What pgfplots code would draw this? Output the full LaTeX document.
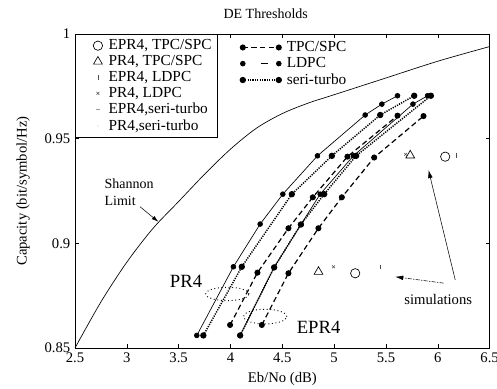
\documentclass[border=0pt]{standalone}
\usepackage{fontspec}
\setmainfont{Liberation Serif}
\usepackage{pgfplots}
\pgfplotsset{compat=1.18}
\usetikzlibrary{arrows.meta}

\pgfplotsset{
  ldpc/.style={black, line width=0.5pt, solid, mark=*, mark size=1.8pt, mark options={solid}},
  tpc/.style={black, line width=0.9pt, dash pattern=on 4pt off 2.5pt, mark=*, mark size=1.8pt, mark options={solid}},
  seri/.style={black, line width=1.1pt, dash pattern=on 0.9pt off 0.9pt, mark=*, mark size=1.8pt, mark options={solid}},
}

\begin{document}
\begin{tikzpicture}[font=\fontsize{11}{13}\selectfont]
\begin{axis}[
  name=main,
  scale only axis, width=311pt, height=235.5pt,
  xmin=2.5, xmax=6.5, ymin=0.85, ymax=1,
  xtick={2.5,3,3.5,4,4.5,5,5.5,6,6.5},
  xticklabels={2.5,3,3.5,4,4.5,5,5.5,6,6.5},
  ytick={0.85,0.9,0.95,1},
  yticklabels={0.85,0.9,0.95,1},
  tick align=inside, major tick length=3pt,
  tick style={black, line width=0.4pt},
  axis line style={line width=0.5pt},
  ticklabel style={font=\fontsize{11}{13}\selectfont},
  every axis title/.style={at={(axis description cs:0.46,1.064)}, anchor=center, font=\fontsize{10.5}{12}\selectfont},
  title={DE Thresholds},
  every axis x label/.style={at={(axis description cs:0.5,-0.1)}, anchor=center},
  every axis y label/.style={at={(axis description cs:-0.125,0.5)}, rotate=90, anchor=center},
  xlabel={Eb/No (dB)},
  ylabel={Capacity (bit/symbol/Hz)},
  legend style={at={(axis description cs:0,1)}, anchor=north west, draw=black, line width=0.4pt,
    font=\fontsize{11.5}{13}\selectfont, row sep=-1.2pt, inner sep=2pt},
  legend cell align=left,
  legend image code/.code={\path[draw=none,fill=none] (0pt,-2pt) rectangle (21pt,2pt); \draw[#1] plot coordinates {(15pt,0pt)};},
  clip=false,
]
% Shannon limit
\addplot[black, line width=0.5pt, smooth, forget plot] coordinates {
 (2.5,0.850) (2.75,0.872) (3.0,0.891) (3.25,0.907) (3.5,0.920) (3.75,0.933)
 (4.0,0.945) (4.25,0.955) (4.5,0.962) (4.75,0.967) (5.0,0.971) (5.5,0.979)
 (6.0,0.987) (6.5,0.994)};
% PR4 LDPC
\addplot[ldpc, forget plot] coordinates {
 (3.675,0.856) (4.028,0.8888) (4.286,0.9092) (4.505,0.9235) (4.839,0.9418)
 (5.299,0.9613) (5.460,0.9665) (5.611,0.9705)};
% PR4 seri-turbo
\addplot[seri, forget plot] coordinates {
 (3.738,0.856) (4.109,0.8888) (4.592,0.9235) (4.978,0.9418) (5.444,0.9613) (5.772,0.9705)};
% PR4 TPC/SPC
\addplot[tpc, forget plot] coordinates {
 (3.996,0.861) (4.260,0.886) (4.559,0.9072) (4.794,0.922) (5.128,0.9414) (5.611,0.961)};
% EPR4 LDPC
\addplot[ldpc, forget plot] coordinates {
 (4.093,0.856) (4.421,0.8885) (4.679,0.909) (4.865,0.9235) (5.186,0.9418) (5.760,0.9665) (5.901,0.9705)};
% EPR4 seri-turbo
\addplot[seri, forget plot] coordinates {
 (4.093,0.856) (4.421,0.8885) (4.679,0.909) (4.904,0.9235) (5.212,0.9418) (5.933,0.9705)};
% EPR4 TPC/SPC
\addplot[tpc, forget plot] coordinates {
 (4.302,0.861) (4.559,0.8857) (4.848,0.9072) (5.074,0.922) (5.386,0.941) (5.862,0.9608)};

% simulations
\addplot[only marks, mark=o, mark size=3.5pt, black, line width=0.5pt] coordinates {(6.071,0.9414) (5.203,0.8857)};
\addlegendentry{EPR4, TPC/SPC}
\addplot[only marks, mark=triangle, mark size=3.8pt, black, line width=0.5pt] coordinates {(5.734,0.942) (4.849,0.8864)};
\addlegendentry{PR4, TPC/SPC}
\addplot[only marks, mark=|, mark size=1.6pt, black!70, line width=0.4pt] coordinates {(6.18,0.942) (5.444,0.8888)};
\addlegendentry{EPR4, LDPC}
\addplot[only marks, mark=x, mark size=1.5pt, black!70, line width=0.4pt] coordinates {(5.69,0.9425) (4.993,0.8888)};
\addlegendentry{PR4, LDPC}
\addlegendimage{only marks, mark=-, mark size=1.2pt, black!40, line width=0.3pt}
\addlegendentry{EPR4,seri-turbo}
\addlegendimage{only marks, mark=*, mark size=0.2pt, black!20}
\addlegendentry{PR4,seri-turbo}

% annotations
\node[anchor=west, align=left, font=\fontsize{10.5}{12.5}\selectfont] at (axis cs:2.74,0.9245) {Shannon\\Limit};
\draw[black, line width=0.4pt, -{Latex[length=5pt,width=3pt]}] (axis cs:3.127,0.9175) -- (axis cs:3.304,0.9103);
\node[font=\fontsize{14}{16}\selectfont] at (axis cs:3.571,0.8817) {PR4};
\node[font=\fontsize{14}{16}\selectfont] at (axis cs:4.85,0.860) {EPR4};
\draw[black, line width=0.7pt, dotted] (axis cs:3.970,0.8758) ellipse [x radius=16.3pt, y radius=5pt];
\draw[black, line width=0.7pt, dotted] (axis cs:4.334,0.8650) ellipse [x radius=16.3pt, y radius=5.5pt];
\node[font=\fontsize{11}{13}\selectfont] at (axis cs:6.004,0.873) {simulations};
\draw[black, line width=0.4pt, -{Latex[length=6pt,width=3.5pt]}] (axis cs:6.168,0.8825) -- (axis cs:5.91,0.935);
\draw[black, line width=0.4pt, dash pattern=on 3pt off 1pt on 1pt off 1pt, -{Latex[length=6pt,width=3.5pt]}] (axis cs:6.055,0.881) -- (axis cs:5.589,0.884);
\end{axis}

\begin{axis}[
  scale only axis, width=311pt, height=235.5pt,
  xmin=0, xmax=1, ymin=0, ymax=1, hide axis,
  at={(main.south west)}, anchor=south west,
  legend style={at={(axis description cs:0.395,0.99)}, anchor=north west, draw=none, fill=none,
    font=\fontsize{11.5}{13}\selectfont, row sep=-1pt, inner sep=1pt},
  legend cell align=left,
  legend image code/.code={\path[draw=none,fill=none] (0pt,-2pt) rectangle (32pt,2pt); \draw[#1] plot coordinates {(1pt,0pt) (28pt,0pt)};},
]
\addlegendimage{tpc}
\addlegendentry{TPC/SPC}
\addlegendimage{black, line width=0.5pt, dash pattern=on 0pt off 14pt on 5pt off 10pt, mark=*, mark size=1.8pt, mark options={solid}}
\addlegendentry{LDPC}
\addlegendimage{seri}
\addlegendentry{seri-turbo}
\end{axis}

\pgfresetboundingbox
\path ([xshift=-56.25pt,yshift=-30.75pt]main.south west) rectangle ([xshift=316.5pt,yshift=261pt]main.south west);
\end{tikzpicture}
\end{document}
